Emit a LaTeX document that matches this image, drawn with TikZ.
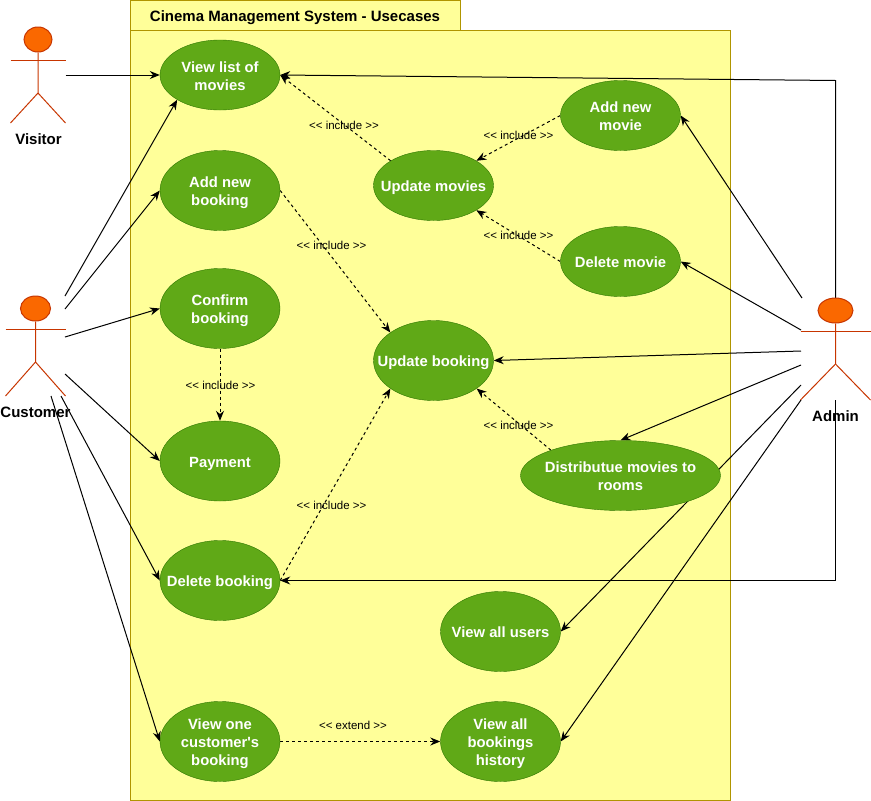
\documentclass[tikz,border=0pt]{standalone}
\usepackage{fontspec}
\setmainfont{Liberation Sans}
\usetikzlibrary{arrows.meta,shapes.geometric,backgrounds}
\definecolor{framefill}{HTML}{FFFF99}
\definecolor{framedraw}{HTML}{B09500}
\definecolor{casefill}{HTML}{60A917}
\definecolor{casedraw}{HTML}{2D7600}
\definecolor{actorfill}{HTML}{FA6800}
\definecolor{actordraw}{HTML}{C73500}

\tikzset{usecase/.style = {ellipse, draw = casedraw, fill = casefill, text = white, inner sep = 0pt,
                           font = \fontsize{14.8}{18}\selectfont\bfseries},
         frame/.style = {draw = framedraw, fill = framefill, line width = 1pt},
         link/.style = {line width = 1pt, -{Stealth[length = 10pt, width = 8pt]}},
         dashlink/.style = {link, dash pattern = on 3pt off 3pt},
         actorline/.style = {draw = actordraw, line width = 1pt},
         actorname/.style = {font = \fontsize{15}{16}\selectfont\bfseries, inner sep = 0pt},
         stereo/.style = {font = \fontsize{11.5}{14}\selectfont, inner sep = 0pt}
        }

\begin{document}
\begin{tikzpicture}[x=1pt, y=-1pt]
  \useasboundingbox (0, 0) rectangle (871, 801);
  % use cases
  \foreach \n/\x/\y/\w/\h/\txt in {list/220/75/120/70/{View list of\\movies},
                                   addbook/220/190.5/120/80/{Add new\\booking},
                                   confirm/220/308.5/120/80/{Confirm\\booking},
                                   payment/220/461/120/80/{Payment},
                                   delbook/220/580.5/120/80/{Delete booking},
                                   onebook/220/741.5/120/80/{View one\\customer\textquotesingle{}s\\booking},
                                   updmovie/433.5/185.5/120/70/{Update movies},
                                   updbook/433.5/360.5/120/80/{Update booking},
                                   addmovie/620.5/115.5/120/70/{Add new\\movie},
                                   delmovie/620.5/261.5/120/70/{Delete movie},
                                   rooms/620.5/475.5/200/70/{Distributue movies to\\rooms},
                                   users/500.5/631.5/120/80/{View all users},
                                   history/500.5/741.5/120/80/{View all\\bookings\\history}}
      {\node[usecase, minimum width = \w pt, minimum height = \h pt] (\n) at (\x, \y)
           {\raisebox{-6.2pt}[0pt][0pt]{\makebox[0pt]{\begin{tabular}{@{}c@{}}\txt\end{tabular}}}};};
  % connector ends at the actors
  \foreach \n/\x/\y in {vis/65.5/75, cusa/65/296, cusb/65/309, cusc/65/337, cusd/65/374, cuse/61/396, cusf/51/396,
                        admtop/835.5/298, admturn/835.5/80.5, admbot/835.5/400, adma/802/298, admb/801/330,
                        admc/801/351, admd/801/365, adme/801/385, admf/801/400}
      {\coordinate (\n) at (\x, \y);};
  \begin{scope}[on background layer]
    \draw[frame] (130.5, 0.5) rectangle (460.5, 30.5);
    \draw[frame] (130.5, 30.5) rectangle (730.5, 800.5);
    \foreach \a/\b in {vis/list.west, cusa/list.210, cusb/addbook.west, cusc/confirm.west, cusd/payment.west,
                       cuse/delbook.west, cusf/onebook.west, adma/addmovie.east, admb/delmovie.east,
                       admc/updbook.east, admd/rooms.north, adme/users.east, admf/history.east}
        {\draw[link] (\a) -- (\b);};
    \draw[link] (admtop) -- (admturn) -- (list.east);
    \draw[link] (admbot) |- (delbook.east);
    \foreach \a/\b in {updmovie.150/list.east, addmovie.west/updmovie.30, delmovie.west/updmovie.330,
                       addbook.east/updbook.147, confirm.south/payment.north, delbook.east/updbook.213,
                       rooms.160/updbook.327, onebook.east/history.west}
        {\draw[dashlink] (\a) -- (\b);};
  \end{scope}
  % actors
  \foreach \n/\x/\y/\w/\hw/\H in {visitor/38/27/27.5/28/96, customer/35.5/296/30/30/100, admin/835.5/298/35/35/102}
      {\node[ellipse, draw = actordraw, fill = actorfill, line width = 1pt, inner sep = 0pt,
             minimum width = \hw pt, minimum height = 25pt] (\n) at (\x, \y + 12.5) {};
       \draw[actorline] (\x - \w, \y + 33) -- (\x + \w, \y + 33);
       \draw[actorline] (\n.south) -- (\x, \y + 66) -- (\x - \w, \y + \H);
       \draw[actorline] (\x, \y + 66) -- (\x + \w, \y + \H);};
  \node[actorname] (visname) at (38.5, 139) {Visitor};
  \node[actorname] (cusname) at (35.5, 412) {Customer};
  \node[actorname] (admname) at (835.5, 416) {Admin};
  % labels
  \node[actorname] (title) at (295, 17.5) {Cinema Management System - Usecases};
  \foreach \n/\x/\y/\txt in {la/344/125/include, lb/518.5/135/include, lc/518.5/235/include, ld/331.5/245/include,
                             le/220.5/385/include, lf/518.5/425/include, lg/331.5/505/include, lh/353/725/extend}
      {\node[stereo] (\n) at (\x, \y) {<{}< \txt{} >{}>};};
\end{tikzpicture}
\end{document}
